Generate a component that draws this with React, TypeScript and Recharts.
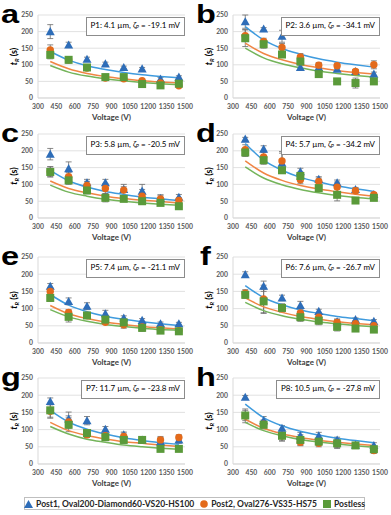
import React from 'react';
import { ComposedChart, Scatter, Line, XAxis, YAxis, CartesianGrid, ErrorBar } from 'recharts';

const VOLTAGES = [400, 550, 700, 850, 1000, 1150, 1300, 1450];
const X_TICKS = [300, 450, 600, 750, 900, 1050, 1200, 1350, 1500];
const Y_TICKS = [0, 50, 100, 150, 200, 250];
const PANEL_LETTERS = ['a', 'b', 'c', 'd', 'e', 'f', 'g', 'h'];
const PANEL_NAMES = ['P1', 'P2', 'P3', 'P4', 'P5', 'P6', 'P7', 'P8'];
const PANEL_SIZES = ['4.1 µm', '3.6 µm', '5.8 µm', '5.7 µm', '7.4 µm', '7.6 µm', '11.7 µm', '10.5 µm'];
const PANEL_ZETAS = ['-19.1 mV', '-34.1 mV', '-20.5 mV', '-34.2 mV', '-21.1 mV', '-26.7 mV', '-23.8 mV', '-27.8 mV'];
const LEGEND_LABELS = ['Post1, Oval200-Diamond60-VS20-HS100', 'Post2, Oval276-VS35-HS75', 'Postless'];

// Post1 (triangles)
const POST1 = [
  [200, 160, 117, 103, 92, 88, 57, 63],
  [230, 208, 186, 92, 92, 87, 80, 72],
  [190, 147, 105, 105, 85, 80, 58, 62],
  [235, 205, 163, 138, 115, 105, 85, 70],
  [165, 121, 107, 85, 73, 66, 56, 56],
  [199, 165, 131, 109, 92, 62, 68, 63],
  [182, 131, 126, 101, 85, 70, 65, 70],
  [194, 126, 104, 82, 82, 70, 55, 54],
];
const POST1_ERR = [
  [21, 8, 6, 5, 4, 4, 5, 4],
  [20, 4, 18, 5, 5, 6, 5, 6],
  [17, 20, 10, 10, 8, 20, 10, 8],
  [5, 10, 30, 10, 8, 8, 6, 5],
  [8, 10, 10, 10, 6, 5, 5, 4],
  [8, 15, 8, 12, 6, 6, 5, 5],
  [10, 20, 12, 8, 8, 6, 12, 10],
  [5, 12, 8, 10, 10, 8, 5, 8],
];
const POST1_FIT = [
  [140, 114, 97, 86, 77, 70, 65, 61],
  [215, 175, 149, 132, 118, 108, 100, 93],
  [142, 111, 92, 79, 70, 62, 57, 52],
  [222, 172, 142, 121, 107, 95, 87, 79],
  [141, 110, 91, 78, 69, 62, 56, 51],
  [167, 132, 111, 96, 86, 77, 71, 65],
  [156, 122, 101, 87, 76, 68, 62, 57],
  [174, 135, 111, 95, 84, 75, 68, 62],
];
// Post2 (circles)
const POST2 = [
  [145, 115, 90, 60, 58, 52, 45, 37],
  [188, 170, 152, 124, 99, 97, 80, 100],
  [138, 123, 97, 88, 83, 65, 57, 52],
  [203, 182, 170, 114, 109, 92, 81, 69],
  [150, 89, 80, 60, 53, 47, 39, 36],
  [145, 128, 102, 87, 75, 60, 56, 50],
  [153, 122, 85, 82, 80, 70, 70, 77],
  [140, 116, 82, 63, 60, 60, 54, 39],
];
const POST2_ERR = [
  [15, 8, 6, 6, 5, 4, 4, 4],
  [18, 10, 12, 10, 8, 8, 6, 12],
  [15, 12, 12, 15, 17, 20, 12, 8],
  [15, 15, 28, 12, 10, 15, 8, 6],
  [10, 8, 6, 6, 10, 8, 5, 5],
  [10, 40, 12, 15, 12, 10, 8, 6],
  [20, 18, 8, 12, 10, 8, 10, 8],
  [20, 12, 15, 10, 10, 15, 5, 8],
];
const POST2_FIT = [
  [110, 88, 74, 65, 58, 52, 48, 45],
  [165, 134, 115, 101, 91, 83, 77, 72],
  [110, 88, 75, 65, 58, 53, 49, 45],
  [170, 134, 112, 97, 86, 78, 71, 65],
  [109, 85, 71, 61, 54, 48, 44, 41],
  [131, 105, 89, 77, 69, 62, 57, 53],
  [121, 97, 83, 73, 65, 60, 55, 51],
  [130, 104, 88, 77, 69, 63, 58, 54],
];
// Postless (squares)
const POSTLESS = [
  [130, 115, 92, 63, 63, 42, 38, 43],
  [180, 162, 131, 110, 72, 50, 45, 50],
  [137, 112, 82, 60, 57, 50, 45, 35],
  [195, 172, 142, 125, 89, 69, 52, 60],
  [131, 76, 80, 68, 60, 44, 36, 34],
  [140, 121, 102, 75, 65, 47, 42, 39],
  [156, 114, 90, 78, 70, 70, 44, 44],
  [141, 114, 82, 70, 65, 60, 54, 43],
];
const POSTLESS_ERR = [
  [12, 10, 6, 8, 6, 5, 4, 4],
  [25, 12, 8, 10, 6, 8, 15, 4],
  [15, 12, 10, 12, 4, 10, 6, 6],
  [12, 12, 6, 12, 8, 18, 4, 6],
  [10, 15, 6, 8, 8, 10, 5, 5],
  [10, 35, 10, 12, 12, 12, 6, 6],
  [20, 20, 10, 10, 10, 5, 5, 5],
  [15, 12, 15, 15, 8, 12, 5, 8],
];
const POSTLESS_FIT = [
  [98, 78, 66, 58, 52, 47, 43, 40],
  [150, 121, 103, 91, 81, 74, 68, 63],
  [98, 77, 65, 56, 50, 45, 41, 38],
  [152, 119, 99, 85, 75, 67, 61, 57],
  [97, 76, 63, 54, 48, 43, 39, 37],
  [118, 94, 79, 69, 61, 56, 51, 47],
  [109, 87, 72, 63, 55, 50, 46, 43],
  [121, 97, 82, 71, 64, 58, 53, 49],
];

const BLUE = '#2E6DB8';
const ORANGE = '#E36A1B';
const GREEN = '#5A9A3A';
const BLUE_LINE = '#3F9BDE';
const ORANGE_LINE = '#F08544';
const GREEN_LINE = '#74B45A';
const ERR = '#6b6b6b';
const FONT = 'Lato, "Liberation Sans", sans-serif';

const COL_LEFT = [0, 195];
const ROW_PLOT_TOP = [15, 134, 257, 378];
const ROW_PLOT_H = [83, 84, 86, 86];
const TOP_PAD = 10;
const X_AXIS_H = 26;

const Tri = (p: any) => {
  const { cx, cy } = p;
  if (cx == null || cy == null) return null;
  const s = 4.5;
  return <path d={`M${cx},${cy - s} L${cx + s},${cy + s * 0.8} L${cx - s},${cy + s * 0.8} Z`} fill={BLUE} />;
};
const Circ = (p: any) => {
  const { cx, cy } = p;
  if (cx == null || cy == null) return null;
  return <circle cx={cx} cy={cy} r={3.7} fill={ORANGE} />;
};
const Sq = (p: any) => {
  const { cx, cy } = p;
  if (cx == null || cy == null) return null;
  return <rect x={cx - 4} y={cy - 4} width={8} height={8} fill={GREEN} />;
};

const YLabel = (props: any) => {
  const vb = props.viewBox || {};
  const cy = (vb.y || 0) + (vb.height || 0) / 2;
  const x = 15;
  return (
    <text x={x} y={cy} transform={`rotate(-90 ${x} ${cy})`} textAnchor="middle" dominantBaseline="middle"
      fontFamily={FONT} fontWeight={700} fontSize={9} fill="#000">
      <tspan fontStyle="italic">t</tspan>
      <tspan fontStyle="italic" fontSize={6} dy={2}>R</tspan>
      <tspan dy={-2}> (s)</tspan>
    </text>
  );
};

const XLabel = (props: any) => {
  const vb = props.viewBox || {};
  const cx = (vb.x || 0) + (vb.width || 0) / 2;
  const y = (vb.y || 0) + 20;
  return (
    <text x={cx} y={y} textAnchor="middle" dominantBaseline="middle" fontFamily={FONT} fontWeight={700}
      fontSize={8} fill="#404040">Voltage (V)</text>
  );
};

function Panel({ idx }: { idx: number }) {
  const col = idx % 2;
  const row = Math.floor(idx / 2);
  const plotTop = ROW_PLOT_TOP[row];
  const plotH = ROW_PLOT_H[row];
  const left = COL_LEFT[col];
  const data = VOLTAGES.map((v, i) => ({
    v,
    p1: POST1[idx][i], e1: POST1_ERR[idx][i], f1: POST1_FIT[idx][i],
    p2: POST2[idx][i], e2: POST2_ERR[idx][i], f2: POST2_FIT[idx][i],
    p0: POSTLESS[idx][i], e0: POSTLESS_ERR[idx][i], f0: POSTLESS_FIT[idx][i],
  }));
  const tick = { fontFamily: FONT, fontWeight: 700, fontSize: 6.8, fill: '#595959' };
  return (
    <>
      <div style={{ position: 'absolute', left, top: plotTop - TOP_PAD }}>
        <ComposedChart width={195} height={TOP_PAD + plotH + X_AXIS_H} data={data}
          margin={{ top: TOP_PAD, right: 10, bottom: 0, left: 16 }}>
          <CartesianGrid vertical={false} stroke="#d9d9d9" strokeWidth={0.8} />
          <XAxis dataKey="v" type="number" domain={[300, 1500]} ticks={X_TICKS} interval={0}
            tickLine={false} tickSize={0} tickMargin={6} axisLine={{ stroke: '#d9d9d9' }}
            tick={tick} height={X_AXIS_H} label={<XLabel />} />
          <YAxis type="number" domain={[0, 250]} ticks={Y_TICKS} interval={0} width={22}
            tickLine={false} tickSize={0} tickMargin={5} axisLine={{ stroke: '#d9d9d9' }} tick={tick} label={<YLabel />} />
          <Scatter dataKey="p1" shape={Tri} isAnimationActive={false}>
            <ErrorBar dataKey="e1" direction="y" width={3} stroke={ERR} strokeWidth={0.8} />
          </Scatter>
          <Scatter dataKey="p2" shape={Circ} isAnimationActive={false}>
            <ErrorBar dataKey="e2" direction="y" width={3} stroke={ERR} strokeWidth={0.8} />
          </Scatter>
          <Scatter dataKey="p0" shape={Sq} isAnimationActive={false}>
            <ErrorBar dataKey="e0" direction="y" width={3} stroke={ERR} strokeWidth={0.8} />
          </Scatter>
          <Line dataKey="f1" type="monotone" stroke={BLUE_LINE} strokeWidth={1.5} dot={false} activeDot={false} isAnimationActive={false} />
          <Line dataKey="f2" type="monotone" stroke={ORANGE_LINE} strokeWidth={1.5} dot={false} activeDot={false} isAnimationActive={false} />
          <Line dataKey="f0" type="monotone" stroke={GREEN_LINE} strokeWidth={1.5} dot={false} activeDot={false} isAnimationActive={false} />
        </ComposedChart>
      </div>
      <div style={{ position: 'absolute', left: left + (idx === 5 ? 5 : 1), top: plotTop - 15, fontFamily: '"Liberation Sans", Arial, sans-serif', fontWeight: 700, fontSize: 26, lineHeight: '29px', color: '#000', transform: 'scaleX(1.25)', transformOrigin: 'left top' }}>
        {PANEL_LETTERS[idx]}
      </div>
      <div style={{ position: 'absolute', right: 391 - (left + 185), top: plotTop + 2, border: '1px solid #8c8c8c', background: '#fff', padding: '1px 4px', fontFamily: FONT, fontSize: 8, lineHeight: '13px', color: '#000', whiteSpace: 'nowrap' }}>
        {PANEL_NAMES[idx]}: {PANEL_SIZES[idx]}, <i>ζ</i><sub style={{ fontSize: 5.5, fontStyle: 'italic', verticalAlign: '-1px' }}>P</sub> = {PANEL_ZETAS[idx]}
      </div>
    </>
  );
}

function LegendMarker({ kind }: { kind: number }) {
  if (kind === 0) return <svg width={9} height={8}><path d="M4.5,0 L9,8 L0,8 Z" fill={BLUE} /></svg>;
  if (kind === 1) return <svg width={8} height={8}><circle cx={4} cy={4} r={3.8} fill={ORANGE} /></svg>;
  return <svg width={8} height={8}><rect x={0} y={0} width={8} height={8} fill={GREEN} /></svg>;
}

export default function App() {
  return (
    <div style={{ position: 'absolute', left: 0, top: 0, width: 391, height: 515, background: '#fff', overflow: 'hidden' }}>
      {PANEL_LETTERS.map((_, i) => <Panel key={i} idx={i} />)}
      <div style={{ position: 'absolute', left: 24, top: 497, width: 341, height: 13, border: '1px solid #bfbfbf', boxSizing: 'border-box', display: 'flex', alignItems: 'center', justifyContent: 'center', gap: 6, fontFamily: FONT, fontWeight: 700, fontSize: 8.5, color: '#262626', whiteSpace: 'nowrap' }}>
        {LEGEND_LABELS.map((l, i) => (
          <span key={i} style={{ display: 'flex', alignItems: 'center', gap: 3 }}>
            <LegendMarker kind={i} />{l}
          </span>
        ))}
      </div>
    </div>
  );
}
